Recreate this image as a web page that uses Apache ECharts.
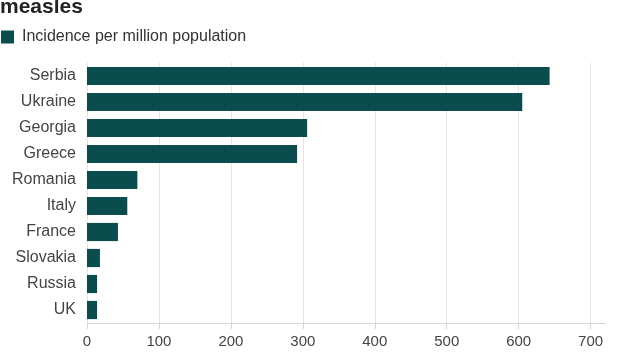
<!DOCTYPE html>
<html>
<head>
<meta charset="utf-8">
<script src="https://cdn.jsdelivr.net/npm/echarts@6/dist/echarts.min.js"></script>
<style>
  html, body { margin: 0; padding: 0; background: #fff; }
  #chart { width: 640px; height: 360px; }
</style>
</head>
<body>
<div id="chart"></div>
<script>
// countries, top to bottom as drawn
const countries = ['Serbia', 'Ukraine', 'Georgia', 'Greece', 'Romania', 'Italy', 'France', 'Slovakia', 'Russia', 'UK'];
// measles incidence per million population
const incidence = [643, 605, 306, 292, 70, 56, 43, 18, 14, 14];
const tickLabels = ['0', '100', '200', '300', '400', '500', '600', '700'];

const teal = '#0b4c4f';
const textColor = '#444';

let chart = echarts.init(document.getElementById('chart'));
chart.setOption({
  animation: false,
  textStyle: { fontFamily: 'Liberation Sans, Arial, sans-serif' },
  title: {
    text: 'measles',
    left: 0,
    top: -3,
    padding: 0,
    textStyle: { fontSize: 21, fontWeight: 'bold', color: '#222' },
  },
  legend: {
    left: 1,
    top: 29,
    padding: 0,
    itemWidth: 13,
    itemHeight: 13,
    icon: 'rect',
    textStyle: { fontSize: 16, color: '#333', padding: [0, 0, 0, 3] },
    data: ['Incidence per million population'],
  },
  grid: {
    left: 87,
    right: 35,
    top: 63,
    bottom: 37,
  },
  xAxis: {
    type: 'value',
    min: 0,
    max: 720,
    interval: 100,
    axisLine: { show: true, lineStyle: { color: '#d6d6d6' } },
    axisTick: { show: true, length: 6, lineStyle: { color: '#d6d6d6' } },
    axisLabel: {
      color: textColor,
      fontSize: 15,
      margin: 11,
      showMaxLabel: false,
      formatter: v => tickLabels[v / 100] || '',
    },
    splitLine: { show: true, showMaxLine: false, lineStyle: { color: '#e3e3e3' } },
  },
  yAxis: {
    type: 'category',
    inverse: true,
    data: countries,
    axisLine: { show: false },
    axisTick: { show: false },
    axisLabel: { color: textColor, fontSize: 16, margin: 11 },
  },
  series: [
    {
      name: 'Incidence per million population',
      type: 'bar',
      data: incidence,
      barCategoryGap: '30%',
      itemStyle: { color: teal },
    },
  ],
});
</script>
</body>
</html>
